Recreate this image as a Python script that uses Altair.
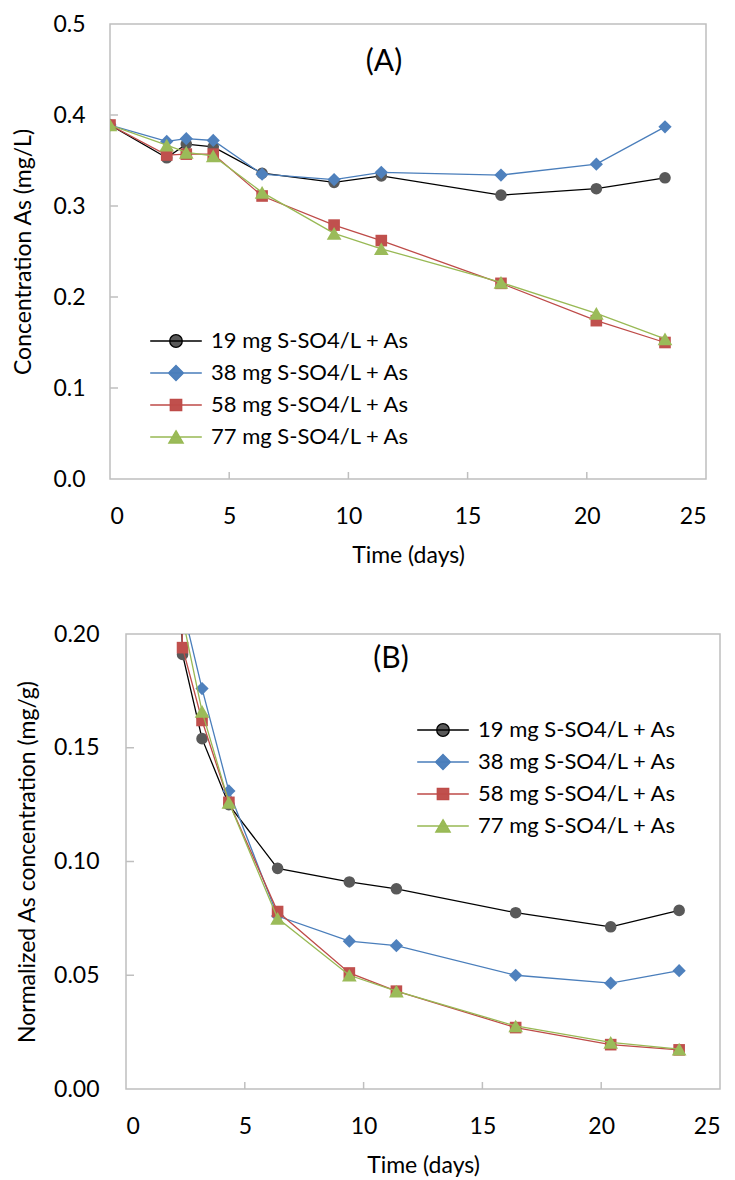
import altair as alt
import pandas as pd

# ---------------- data ----------------
series = ["19 mg S-SO4/L + As", "38 mg S-SO4/L + As", "58 mg S-SO4/L + As", "77 mg S-SO4/L + As"]
days = [0, 2.38, 3.2, 4.33, 6.38, 9.4, 11.38, 16.4, 20.4, 23.28]

# Panel A: concentration As (mg/L)
conc_19 = [0.389, 0.353, 0.368, 0.365, 0.336, 0.326, 0.333, 0.312, 0.319, 0.331]
conc_38 = [0.389, 0.371, 0.374, 0.372, 0.335, 0.329, 0.337, 0.334, 0.346, 0.387]
conc_58 = [0.389, 0.356, 0.357, 0.357, 0.311, 0.279, 0.262, 0.215, 0.174, 0.150]
conc_77 = [0.389, 0.367, 0.359, 0.355, 0.315, 0.270, 0.253, 0.216, 0.182, 0.154]

# Panel B: normalized As concentration (mg/g)
norm_19 = [1.00, 0.191, 0.154, 0.125, 0.097, 0.091, 0.088, 0.0775, 0.0713, 0.0785]
norm_38 = [1.00, 0.212, 0.176, 0.131, 0.076, 0.065, 0.063, 0.050, 0.0465, 0.052]
norm_58 = [1.00, 0.194, 0.162, 0.126, 0.078, 0.051, 0.043, 0.027, 0.0195, 0.0172]
norm_77 = [1.00, 0.207, 0.166, 0.126, 0.075, 0.050, 0.043, 0.0277, 0.0205, 0.0175]

x_ticks = [0, 5, 10, 15, 20, 25]
y_ticks_a = [0, 0.1, 0.2, 0.3, 0.4, 0.5]
y_ticks_b = [0, 0.05, 0.10, 0.15, 0.20]

line_colors = ["#000000", "#4a7ebb", "#be4b48", "#98b954"]
marker_colors = ["#595959", "#4f81bd", "#c0504d", "#9bbb59"]
marker_shapes = ["circle", "diamond", "square", "triangle-up"]
marker_sizes = [135, 175, 135, 215]
legend_paths = [
    "M-4.3,0H4.3M1.05,0A1.05,1.05,0,1,1,-1.05,0A1.05,1.05,0,1,1,1.05,0Z",
    "M-4.3,0H4.3M0,-1.25L1.25,0L0,1.25L-1.25,0Z",
    "M-4.3,0H4.3M-0.95,-0.95H0.95V0.95H-0.95Z",
    "M-4.3,0H4.3M0,-1.05L1.2,1.0H-1.2Z",
]

FONT = "Lato"
GRAY = "#bfbfbf"
H = 455
LABEL_FS = 23
TITLE_FS = 23
LEGEND_FS = 22


def long_df(vals):
    rows = []
    for s, v in zip(series, vals):
        for d, c in zip(days, v):
            rows.append({"series": s, "day": d, "value": c})
    return pd.DataFrame(rows)


df_a = long_df([conc_19, conc_38, conc_58, conc_77])
df_b = long_df([norm_19, norm_38, norm_58, norm_77])


def panel(df, x0, pw, ydom, yvals, yfmt, ytitle, label, label_xy, legend_xy, lab_pad, title_pad):
    W = x0 + pw
    xs = alt.Scale(domain=[0, 25], nice=False, range=[x0, W])
    ys = alt.Scale(domain=ydom, nice=False)
    xenc = alt.X("day:Q", scale=xs,
                 axis=alt.Axis(values=x_ticks, title="Time (days)", labelPadding=26,
                               titlePadding=16, format="d", titleX=x0 + pw / 2))
    yenc = alt.Y("value:Q", scale=ys,
                 axis=alt.Axis(values=yvals, title=ytitle, format=yfmt,
                               labelPadding=lab_pad, titlePadding=title_pad))
    layers = []
    # plot frame
    layers.append(alt.Chart(pd.DataFrame({"t": [0]})).mark_rect(
        fill="transparent", stroke=GRAY, strokeWidth=1.5).encode(
        x=alt.value(x0), x2=alt.value(W), y=alt.value(0), y2=alt.value(H)))
    # inner ticks
    xt = pd.DataFrame({"t": x_ticks[1:-1]})
    yt = pd.DataFrame({"t": yvals[1:-1]})
    layers.append(alt.Chart(xt).mark_rule(color=GRAY, strokeWidth=1.5).encode(
        x=alt.X("t:Q", scale=xs), y=alt.value(H), y2=alt.value(H - 7)))
    layers.append(alt.Chart(yt).mark_rule(color=GRAY, strokeWidth=1.5).encode(
        y=alt.Y("t:Q", scale=ys), x=alt.value(x0), x2=alt.value(x0 + 8)))
    for i, s in enumerate(series):
        sub = df[df.series == s]
        layers.append(alt.Chart(sub).mark_line(color=line_colors[i], strokeWidth=1.3, clip=True)
                      .encode(x=xenc, y=yenc))
        layers.append(alt.Chart(sub).mark_point(shape=marker_shapes[i], filled=True, opacity=1,
                                                 size=marker_sizes[i], color=marker_colors[i],
                                                 clip=True)
                      .encode(x=xenc, y=yenc))
    # legend proxy (no rows drawn; legend built from explicit scale domains)
    legend = alt.Legend(title=None, orient="none", legendX=legend_xy[0], legendY=legend_xy[1],
                        labelFont=FONT, labelFontSize=LEGEND_FS, labelColor="black", labelLimit=600,
                        symbolSize=144, symbolStrokeWidth=1.3, labelOffset=24,
                        rowPadding=10, padding=0, symbolOffset=0, symbolOpacity=1)
    layers.append(alt.Chart(df).transform_filter("datum.value < -1").mark_point(filled=True, opacity=1)
                  .encode(x=xenc, y=yenc,
                          stroke=alt.Stroke("series:N", scale=alt.Scale(domain=series, range=line_colors), legend=legend),
                          fill=alt.Fill("series:N", scale=alt.Scale(domain=series, range=marker_colors), legend=legend),
                          shape=alt.Shape("series:N", scale=alt.Scale(domain=series, range=legend_paths), legend=legend)))
    layers.append(alt.Chart(pd.DataFrame({"t": [label]})).mark_text(
        font=FONT, fontSize=30, color="black", align="center", baseline="middle").encode(
        text="t:N", x=alt.value(label_xy[0]), y=alt.value(label_xy[1])))
    return alt.layer(*layers).properties(width=W, height=H)


chart_a = panel(df_a, 0, 596, [0, 0.5], y_ticks_a, ".1f", "Concentration As (mg/L)", "(A)",
                (274, 38), (55, 306), 25, 17)
chart_b = panel(df_b, 16, 594, [0, 0.2], y_ticks_b, ".2f", "Normalized As concentration (mg/g)", "(B)",
                (281, 25), (322, 85), 11, 14)

chart = alt.concat(chart_a, chart_b, columns=1, spacing=56).resolve_scale(
    stroke="independent", fill="independent", shape="independent"
).resolve_legend(
    stroke="independent", fill="independent", shape="independent"
).properties(
    padding={"left": 4, "top": 5, "right": 5, "bottom": 5}
).configure_view(strokeWidth=0).configure_axis(
    domain=False, ticks=False, grid=False, labelFont=FONT, labelFontSize=LABEL_FS, labelColor="black",
    titleFont=FONT, titleFontSize=TITLE_FS, titleFontWeight="normal", titleColor="black"
)

chart.save("out.html", embed_options={"renderer": "svg", "actions": False})
